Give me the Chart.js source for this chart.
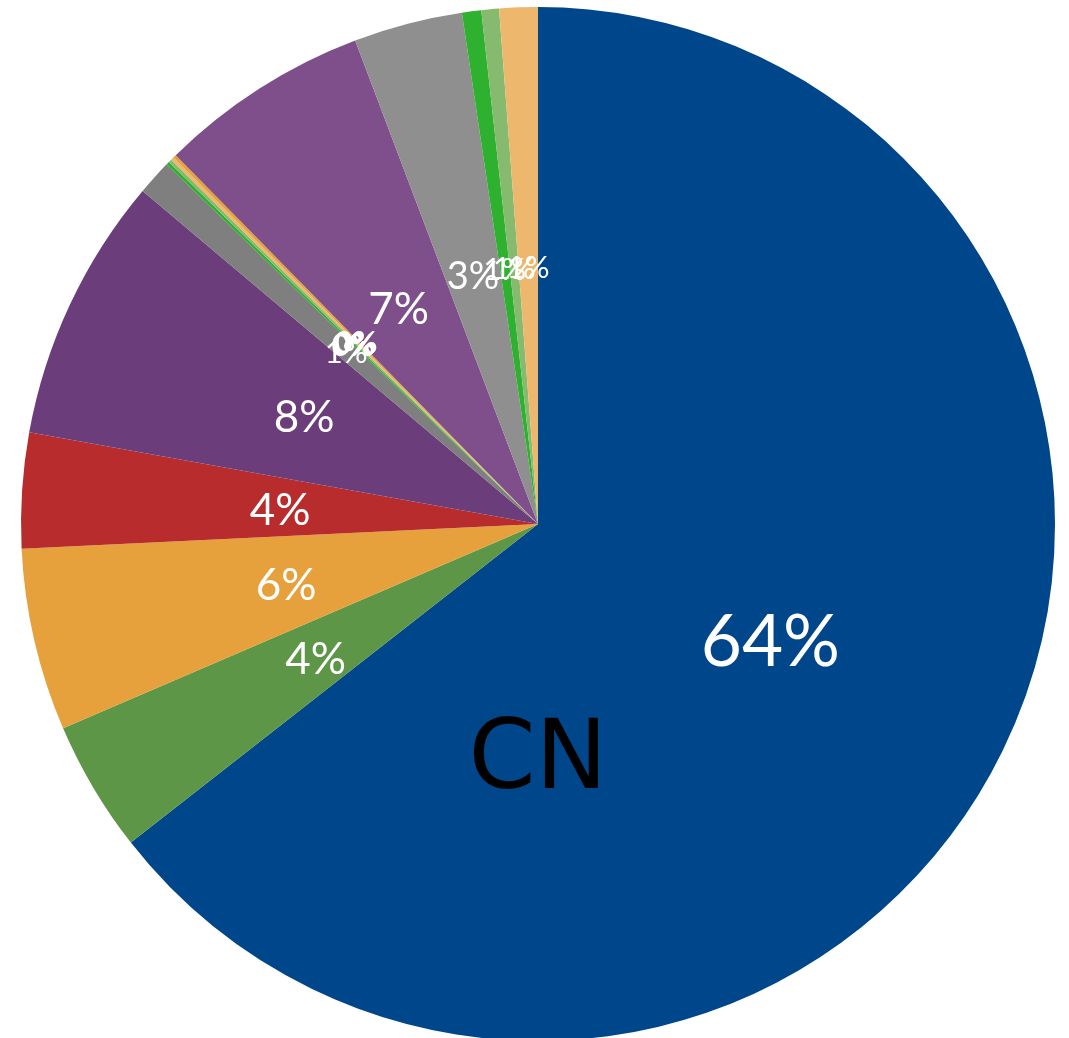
<!DOCTYPE html>
<html>
<head>
<meta charset="utf-8">
<script src="https://cdn.jsdelivr.net/npm/chart.js@4"></script>
<style>
  html, body { margin: 0; padding: 0; background: #ffffff; overflow: hidden; }
  #wrap { position: absolute; left: 0; top: 0; width: 1076px; height: 1048px; }
</style>
</head>
<body>
<div id="wrap"><canvas id="pieChart"></canvas></div>
<script>
// slice order: clockwise from 12 o'clock
const categories = ["CN", "B", "C", "D", "E", "F", "G", "H", "I", "J", "K", "L", "M", "N", "O"]
const shares = [64.4, 4.1, 5.7, 3.6, 8.3, 1.1, 0.1, 0.1, 0.1, 0.1, 6.6, 3.4, 0.6, 0.55, 1.2]
const colors = [
  "#00468b", "#5e9648", "#e6a13c", "#b92c2d", "#6b3d7b", "#7f7f7f",
  "#2eb12e", "#86ba6e", "#edb86e", "#e6a13c",
  "#7f4f8b", "#8e8f8e", "#2eb12e", "#86ba6e", "#edb86e",
]
const shownName = "CN"

// percentage labels inside each slice + big category name
const sliceLabels = {
  id: "sliceLabels",
  afterDatasetsDraw(chart) {
    const ctx = chart.ctx
    const meta = chart.getDatasetMeta(0)
    const total = shares.reduce((a, b) => a + b, 0)
    ctx.save()
    ctx.textAlign = "center"
    ctx.textBaseline = "middle"
    ctx.fillStyle = "#ffffff"
    meta.data.forEach((arc, i) => {
      const pct = shares[i] / total * 100
      const pos = arc.tooltipPosition()
      let size = 44
      if (pct > 30) size = 71
      else if (pct < 2) size = 31
      else if (pct < 3.5) size = 38
      ctx.font = `${size}px Lato, "Noto Sans", sans-serif`
      ctx.fillText(Math.round(pct) + "%", pos.x, pos.y + size * 0.08)
    })
    const first = meta.data[0]
    const idx = categories.indexOf(shownName)
    if (idx >= 0) {
      ctx.fillStyle = "#000000"
      ctx.font = '96px "DejaVu Sans", sans-serif'
      ctx.fillText(shownName, first.x, first.y + first.outerRadius * 0.463)
    }
    ctx.restore()
  },
}

new Chart(document.getElementById("pieChart"), {
  type: "pie",
  data: {
    labels: categories,
    datasets: [
      {
        data: shares,
        backgroundColor: colors,
        borderWidth: 0,
      },
    ],
  },
  options: {
    responsive: true,
    maintainAspectRatio: false,
    animation: false,
    layout: { padding: 7 },
    plugins: {
      legend: { display: false },
      tooltip: { enabled: false },
    },
  },
  plugins: [sliceLabels],
})
</script>
</body>
</html>
